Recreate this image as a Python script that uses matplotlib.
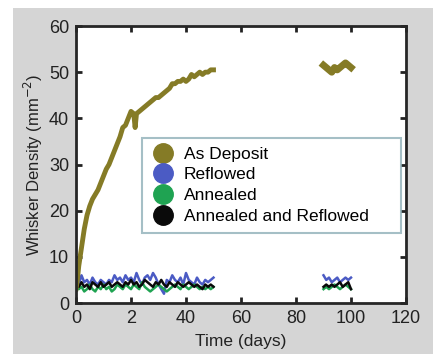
import matplotlib
matplotlib.use('Agg')
import matplotlib.pyplot as plt
from matplotlib.lines import Line2D
from matplotlib.patches import Rectangle

plt.rcParams['font.family'] = ['Liberation Sans', 'DejaVu Sans']

# as deposit, first run (0-50 days)
dep_days = [0, 0.5, 1, 1.5, 2, 3, 4, 5, 6, 7, 8, 9, 10, 11, 12, 13, 14, 15, 16, 17, 18, 19,
            20, 21, 21.5, 22, 23, 24, 25, 26, 27, 28, 29, 30, 31, 32, 33, 34, 35, 36, 37,
            38, 39, 40, 41, 42, 43, 44, 45, 46, 47, 48, 49, 50]
dep_vals = [3, 5, 8, 10, 12, 16, 19, 21, 22.5, 23.5, 24.5, 26, 27.5, 29, 30, 31.5, 33, 34.5,
            36, 38, 38.5, 40, 41.5, 41, 38, 41, 41.5, 42, 42.5, 43, 43.5, 44, 44.5, 44.5, 45,
            45.5, 46, 46.5, 47.5, 47.5, 48, 48, 48.5, 48, 48.5, 49.5, 49, 49.5, 50, 49.5, 50,
            50, 50.5, 50.5]
# as deposit, second run (90-100 days)
dep_days2 = [90, 91, 92, 93, 94, 95, 96, 97, 98, 99, 100]
dep_vals2 = [51.5, 51, 50.5, 50, 51, 50.5, 51, 51.5, 52, 51.5, 51]

days = list(range(51))
refl = [5.5, 4, 6, 4.5, 5, 4, 5.5, 4.5, 4, 5, 4.5, 4, 5, 4.5, 6, 5, 5.5, 4.5, 6, 5, 5.5, 4.5,
        6.5, 5, 4, 5.5, 6, 5, 6.5, 5.5, 4, 3, 2, 5, 4.5, 6, 5, 4.5, 5.5, 4, 6.5, 5, 4.5, 4,
        5.5, 4.5, 4, 5, 4.5, 5, 5.5]
anneal = [4, 3, 3.5, 2.5, 3, 4, 3, 2.5, 3.5, 3, 4, 3, 3.5, 2.5, 3, 4, 3.5, 3, 4, 3.5, 3, 4,
          3.5, 3, 4.5, 3.5, 3, 2.5, 3, 3.5, 4, 3.5, 3, 2.5, 3, 3.5, 4, 3.5, 3, 4, 3.5, 3, 3.5,
          4, 3.5, 3, 3.5, 3, 3.5, 3, 3.5]
ann_refl = [4, 3.5, 4.5, 3.5, 4, 3, 4.5, 4, 3.5, 4.5, 3.5, 4, 4.5, 3.5, 4, 4.5, 4, 3.5, 4.5,
            4, 5, 4, 4.5, 3.5, 4, 5, 4.5, 4, 3.5, 4.5, 4, 5, 4, 3.5, 4.5, 4, 3.5, 4.5, 4, 3.5,
            4, 4.5, 4, 3.5, 4, 3.5, 3, 4, 3.5, 4, 3.5]

days2 = [90, 91, 92, 93, 94, 95, 96, 97, 98, 99, 100]
refl2 = [6, 5, 5.5, 4.5, 5, 5.5, 4.5, 5, 5.5, 5, 5.5]
anneal2 = [3, 3.5, 3, 3.5, 4, 3.5, 3, 3.5, 4, 3.5, 3]
ann_refl2 = [3.5, 4, 3.5, 4, 3.5, 4, 4.5, 3.5, 4, 4.5, 3]

labels = ['As Deposit', 'Reflowed', 'Annealed', 'Annealed and Reflowed']
colors = ['#857b26', '#4b5bc4', '#1fa352', '#0a0a0a']
xticks = [0, 20, 40, 60, 80, 100, 120]
xtick_labels = ['0', '2', '40', '60', '80', '100', '120']

fig = plt.figure(figsize=(4.33, 3.54), dpi=100)
fig.patch.set_facecolor('white')
fig.patches.append(Rectangle((13 / 433, 0), 1, 1 - 8 / 354, transform=fig.transFigure,
                             facecolor='#d5d5d5', edgecolor='none', zorder=-10))
ax = fig.add_axes([76 / 433, 1 - 303 / 354, 330 / 433, 277 / 354])

ax.plot(days, refl, color=colors[1], lw=1.8)
ax.plot(days, anneal, color=colors[2], lw=1.8)
ax.plot(days, ann_refl, color=colors[3], lw=1.8)
ax.plot(days2, refl2, color=colors[1], lw=1.8)
ax.plot(days2, anneal2, color=colors[2], lw=1.8)
ax.plot(days2, ann_refl2, color=colors[3], lw=1.8)
ax.plot(dep_days, dep_vals, color=colors[0], lw=3.5)
ax.plot(dep_days2, dep_vals2, color=colors[0], lw=5)

ax.set_xlim(0, 120)
ax.set_ylim(0, 60)
ax.set_xticks(xticks)
ax.set_xticklabels(xtick_labels)
ax.set_yticks([0, 10, 20, 30, 40, 50, 60])
ax.tick_params(direction='in', length=4, width=2, top=True, right=True,
               labelsize=13, colors='#222222', pad=5)
for s in ax.spines.values():
    s.set_linewidth(2)
    s.set_color('#262626')

ax.set_xlabel('Time (days)', fontsize=12.5, color='#222222', labelpad=5)
ax.set_ylabel('Whisker Density (mm$^{-2}$)', fontsize=12, color='#222222', labelpad=3)

handles = [Line2D([], [], marker='o', ls='none', markersize=14, color=c) for c in colors]
leg = ax.legend(handles, labels, loc='lower left', bbox_to_anchor=(0.2, 0.253, 0.785, 0.347),
                mode='expand', fontsize=12.5, frameon=True, fancybox=False,
                labelspacing=0.33, handletextpad=0.5, borderpad=0.5, handlelength=1.4,
                borderaxespad=0)
leg.get_frame().set_edgecolor('#8fb0b8')
leg.get_frame().set_linewidth(1.5)

fig.savefig('out.png', dpi=100)
